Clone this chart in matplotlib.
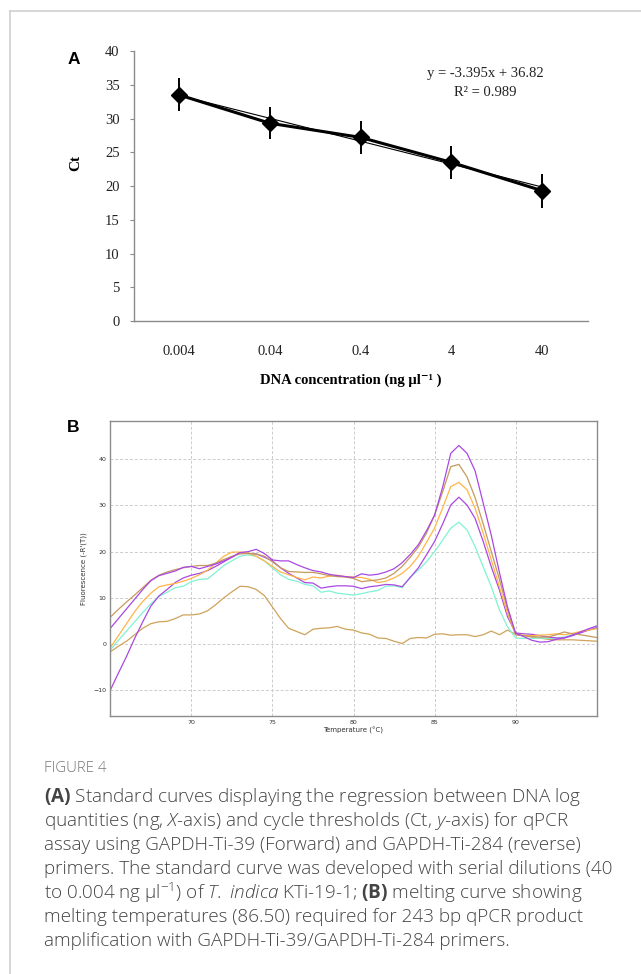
import numpy as np
import matplotlib
matplotlib.use("Agg")
import matplotlib.pyplot as plt
from matplotlib.lines import Line2D

# ---- panel A: standard curve ----
conc_labels = ["0.004", "0.04", "0.4", "4", "40"]
ct_mean = [33.5, 29.3, 27.2, 23.5, 19.3]
ct_err = [2.45, 2.35, 2.45, 2.4, 2.5]
slope, intercept = -3.395, 36.82

# ---- panel B: melting curves, -R'(T) ----
temp = np.arange(65.0, 95.01, 0.5)
purple_hi = [3.4, 5.5, 7.6, 9.7, 11.8, 13.7, 14.8, 15.3, 15.8, 16.6,
             16.8, 16.3, 16.8, 17.3, 18.0, 18.8, 19.8, 20.0, 20.5, 19.6,
             18.2, 18.0, 18.0, 17.2, 16.5, 15.9, 15.6, 15.1, 14.8, 14.6,
             14.4, 15.2, 14.9, 15.1, 15.6, 16.3, 17.6, 19.4, 21.5, 24.5,
             27.9, 34.0, 41.3, 43.0, 41.3, 37.5, 30.5, 23.5, 15.5, 8.0,
             2.3, 1.6, 0.8, 0.4, 0.5, 1.0, 1.3, 1.9, 2.6, 3.3, 3.9]
tan_hi = [5.8, 7.5, 9.1, 10.6, 12.2, 13.8, 14.9, 15.6, 16.1, 16.5,
          16.8, 17.0, 17.0, 17.5, 18.3, 19.0, 19.5, 19.6, 19.5, 19.0,
          17.8, 16.5, 15.7, 15.6, 15.5, 15.5, 15.2, 14.8, 14.6, 14.5,
          14.2, 13.5, 13.7, 13.9, 14.3, 15.3, 16.8, 18.8, 21.0, 24.0,
          27.9, 33.0, 38.4, 38.9, 36.2, 31.7, 26.0, 20.0, 14.0, 7.5,
          2.0, 1.8, 1.6, 1.5, 1.5, 2.0, 2.6, 2.2, 2.0, 1.7, 1.4]
orange = [-0.8, 1.8, 4.4, 7.0, 9.2, 11.0, 12.4, 12.8, 13.1, 13.6,
          14.2, 15.0, 16.0, 17.5, 19.0, 19.9, 19.9, 19.8, 19.0, 18.0,
          16.8, 15.6, 15.0, 14.4, 13.9, 14.5, 14.3, 14.7, 14.9, 14.6,
          14.5, 14.4, 14.0, 13.3, 13.6, 14.3, 15.3, 16.8, 19.0, 22.0,
          25.1, 29.5, 34.1, 35.0, 33.4, 29.4, 24.0, 18.2, 12.4, 6.6,
          2.0, 1.9, 1.8, 1.9, 2.0, 2.2, 2.0, 2.3, 2.7, 3.0, 3.3]
purple_lo = [-10.0, -6.3, -2.7, 1.2, 4.8, 8.2, 10.4, 11.8, 13.3, 14.3,
             14.9, 15.3, 15.9, 16.8, 17.8, 18.8, 19.8, 19.6, 19.5, 18.8,
             18.0, 16.5, 15.3, 14.3, 13.3, 13.2, 12.1, 12.4, 12.6, 12.6,
             12.5, 12.0, 12.4, 12.6, 12.9, 12.8, 12.4, 14.4, 16.5, 19.3,
             22.2, 26.0, 30.1, 31.8, 30.1, 27.2, 22.2, 16.7, 11.7, 5.9,
             2.4, 2.2, 2.1, 1.8, 1.5, 1.3, 1.3, 1.8, 2.4, 3.0, 3.5]
cyan = [-1.3, 0.8, 2.8, 4.8, 6.8, 8.7, 10.3, 11.2, 12.2, 12.5,
        13.5, 14.0, 14.1, 15.5, 17.0, 18.0, 19.0, 19.3, 19.0, 18.0,
        16.5, 15.0, 14.0, 13.6, 12.9, 12.6, 11.2, 11.5, 11.0, 10.8,
        10.6, 10.9, 11.3, 11.6, 12.5, 12.6, 12.2, 14.5, 16.0, 17.8,
        20.0, 22.5, 25.1, 26.4, 24.7, 21.1, 16.7, 12.4, 7.4, 3.7,
        1.3, 1.2, 1.2, 1.3, 1.2, 1.3, 1.5, 2.0, 2.6, 3.1, 3.6]
tan_lo = [-1.7, -0.5, 0.6, 2.0, 3.4, 4.4, 4.8, 4.9, 5.5, 6.3,
          6.3, 6.5, 7.2, 8.5, 10.0, 11.3, 12.5, 12.4, 11.8, 10.5,
          8.0, 5.5, 3.4, 2.7, 2.0, 3.2, 3.4, 3.5, 3.8, 3.2,
          3.0, 2.4, 2.1, 1.3, 1.2, 0.6, 0.1, 1.2, 1.4, 1.3,
          2.1, 2.2, 1.9, 2.0, 2.0, 1.6, 2.0, 2.8, 2.0, 3.0,
          2.1, 1.8, 1.5, 1.3, 1.0, 0.9, 0.9, 0.9, 0.8, 0.7, 0.6]

W, H = 641, 974
fig = plt.figure(figsize=(W / 100, H / 100), dpi=100)

def fx(px):
    return px / W

def fy(py):
    return 1 - py / H

# light frame around the figure
fig.add_artist(Line2D([fx(10), 1], [fy(11), fy(11)], color="#cfcfcf", lw=1.2))
fig.add_artist(Line2D([fx(10), fx(10)], [fy(11), 0], color="#cfcfcf", lw=1.2))

serif = ["Liberation Serif", "DejaVu Serif"]

# ---------------- panel A ----------------
axA = fig.add_axes([fx(133.6), fy(321), fx(587.6 - 133.6), (321 - 51) / H])
xi = np.arange(len(conc_labels))
trend = [slope * (i + 1) + intercept for i in xi]
axA.plot(xi, trend, color="black", lw=0.8, zorder=2)
axA.errorbar(xi, ct_mean, yerr=ct_err, fmt="none", ecolor="black", elinewidth=1.4, capsize=0, zorder=3)
axA.plot(xi, ct_mean, color="black", lw=2.2, marker="D", ms=8, zorder=4)
axA.set_xlim(-0.5, 4.5)
axA.set_ylim(0, 40)
axA.set_yticks(range(0, 41, 5))
axA.set_xticks(xi)
axA.set_xticklabels(conc_labels)
for s in ["top", "right"]:
    axA.spines[s].set_visible(False)
for s in ["left", "bottom"]:
    axA.spines[s].set_color("#8a8a8a")
    axA.spines[s].set_linewidth(1.0)
axA.tick_params(axis="y", length=3, color="#8a8a8a", pad=7, labelsize=10.5)
axA.tick_params(axis="x", length=0, pad=17, labelsize=10.5)
for lab in axA.get_xticklabels() + axA.get_yticklabels():
    lab.set_family(serif)
    lab.set_color("#222222")

fig.text(fx(74), fy(59), "A", ha="center", va="center", fontsize=12.5, fontweight="bold",
         family="Liberation Sans")
fig.text(fx(76), fy(163), "Ct", ha="center", va="center", rotation=90, fontsize=11,
         fontweight="bold", family=serif)
fig.text(fx(351), fy(380), "DNA concentration (ng µl⁻¹ )", ha="center", va="center",
         fontsize=10.5, fontweight="bold", family=serif)
fig.text(fx(485), fy(73), "y = -3.395x + 36.82", ha="center", va="center", fontsize=10.5,
         family=serif, color="#222222")
fig.text(fx(485), fy(93), "R² = 0.989", ha="center", va="center", fontsize=10.5,
         family=serif, color="#222222")

# ---------------- panel B ----------------
axB = fig.add_axes([fx(110.3), fy(716), fx(596.7 - 110.3), (716 - 421) / H])
curves = [
    (tan_lo, "#cfa35a"),
    (cyan, "#80f2d4"),
    (purple_lo, "#aa48e2"),
    (orange, "#ffb548"),
    (tan_hi, "#c49a5e"),
    (purple_hi, "#aa48e2"),
]
for vals, col in curves:
    axB.plot(temp, vals, color=col, lw=0.9)
axB.set_xlim(65.0, 95.0)
axB.set_ylim(-15.6, 48.3)
axB.set_xticks([70, 75, 80, 85, 90])
axB.set_yticks([-10, 0, 10, 20, 30, 40])
axB.grid(True, ls=(0, (3, 2)), color="#cccccc", lw=0.7)
for s in axB.spines.values():
    s.set_color("#8c8c8c")
    s.set_linewidth(1.0)
axB.tick_params(length=0, pad=3, labelsize=4.5, labelcolor="#333333")
axB.set_xlabel("Temperature (°C)", fontsize=5, labelpad=1.5, color="#333333")
axB.set_ylabel("Fluorescence (-R'(T))", fontsize=5, labelpad=4.5, color="#333333")
fig.text(fx(73), fy(427), "B", ha="center", va="center", fontsize=12.5, fontweight="bold",
         family="Liberation Sans")

# ---------------- caption ----------------
plt.rcParams["mathtext.fontset"] = "custom"
plt.rcParams["mathtext.rm"] = "Open Sans:light"
plt.rcParams["mathtext.it"] = "Open Sans:italic:light"
plt.rcParams["mathtext.bf"] = "Open Sans:bold"

fig.text(fx(44), fy(769), "FIGURE 4", ha="left", va="center", fontsize=10.8,
         family="Open Sans", fontweight="light", color="#777777")
caption = [
    r"$\mathbf{(A)}$ Standard curves displaying the regression between DNA log",
    r"quantities (ng, $\mathit{X}$-axis) and cycle thresholds (Ct, $\mathit{y}$-axis) for qPCR",
    "assay using GAPDH-Ti-39 (Forward) and GAPDH-Ti-284 (reverse)",
    "primers. The standard curve was developed with serial dilutions (40",
    r"to 0.004 ng μl$^{-1}$) of $\mathit{T.}$ $\mathit{indica}$ KTi-19-1; $\mathbf{(B)}$ melting curve showing",
    "melting temperatures (86.50) required for 243 bp qPCR product",
    "amplification with GAPDH-Ti-39/GAPDH-Ti-284 primers.",
]
for i, line in enumerate(caption):
    fig.text(fx(44), fy(797 + 24 * i), line, ha="left", va="center", fontsize=13.6,
             family="Open Sans", fontweight="light", color="#444444")

fig.savefig("out.png", dpi=100)
